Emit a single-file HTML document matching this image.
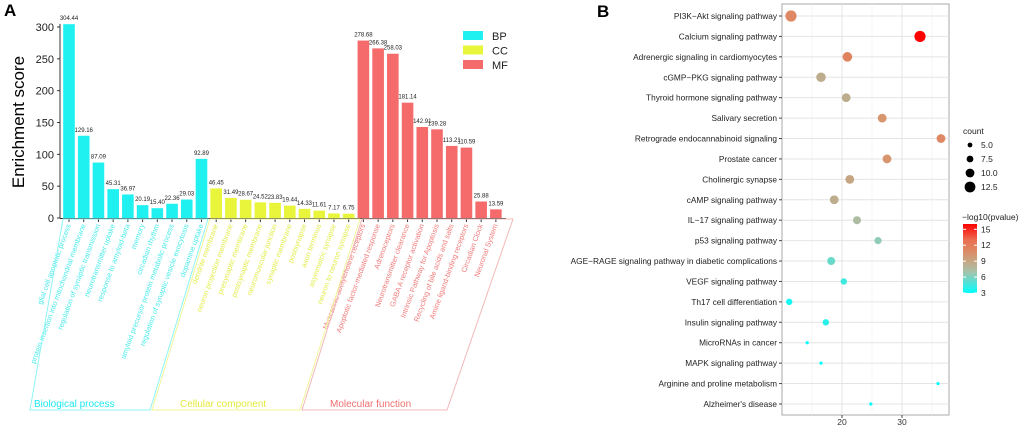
<!DOCTYPE html>
<html><head><meta charset="utf-8"><style>
html,body{margin:0;padding:0;background:#fff;}
svg{display:block;font-family:"Liberation Sans",sans-serif;}
</style></head><body>
<svg id="svg" width="1020" height="430" viewBox="0 0 1020 430"></svg>
<script>
const NS="http://www.w3.org/2000/svg";
const svg=document.getElementById('svg');
function mk(tag,attrs,parent,text){const e=document.createElementNS(NS,tag);for(const k in attrs)e.setAttribute(k,attrs[k]);if(text!==undefined)e.textContent=text;(parent||svg).appendChild(e);return e;}

// ---------- Panel A data ----------
const bpTerms=["glial cell apoptotic process","protein insertion into mitochondrial membrane","regulation of synaptic transmission","neurotransmitter uptake","response to amyloid-beta","memory","circadian rhythm","amyloid precursor protein metabolic process","regulation of synaptic vesicle exocytosis","dopamine uptake"];
const bpValues=[304.44,129.16,87.09,45.31,36.97,20.19,15.40,22.36,29.03,92.89];
const ccTerms=["dendrite membrane","neuron projection membrane","presynaptic membrane","postsynaptic membrane","neuromuscular junction","synaptic membrane","postsynapse","axon terminus","asymmetric synapse","neuron to neuron synapse"];
const ccValues=[46.45,31.49,28.67,24.52,23.83,19.44,14.33,11.61,7.17,6.75];
const mfTerms=["Muscarinic acetylcholine receptors","Apoptotic factor-mediated response","Adrenoceptors","Neurotransmitter clearance","GABA A receptor activation","Intrinsic Pathway for Apoptosis","Recycling of bile acids and salts","Amine ligand-binding receptors","Circadian Clock","Neuronal System"];
const mfValues=[278.68,266.38,258.03,181.14,142.91,139.28,113.21,110.59,25.88,13.59];
const yTicksA=[0,50,100,150,200,250,300];

// ---------- Panel B data ----------
const pathways=["PI3K\u2212Akt signaling pathway","Calcium signaling pathway","Adrenergic signaling in cardiomyocytes","cGMP\u2212PKG signaling pathway","Thyroid hormone signaling pathway","Salivary secretion","Retrograde endocannabinoid signaling","Prostate cancer","Cholinergic synapse","cAMP signaling pathway","IL\u221217 signaling pathway","p53 signaling pathway","AGE\u2212RAGE signaling pathway in diabetic complications","VEGF signaling pathway","Th17 cell differentiation","Insulin signaling pathway","MicroRNAs in cancer","MAPK signaling pathway","Arginine and proline metabolism","Alzheimer's disease"];
const xValuesB=[11.5,33,20.9,16.5,20.7,26.7,36.5,27.5,21.3,18.7,22.5,26,18.2,20.3,11.2,17.3,14.2,16.5,36,24.8];
const countsB=[13,13,11,11,10,10,10,10,10,10,9,8,9,7,7,7,3,3,3,3];
const logpB=[11,16,11.5,8.5,8.5,10,11,10,9,8.5,7.5,6.5,5.5,4.5,3.5,4,3,3,3,3];
const xTicksB=[20,30];
const sizeLegend=[5.0,7.5,10.0,12.5];
const colorTicks=[3,6,9,12,15];

// ---------- Panel A ----------
const yA=v=>218-v*(191/300);
mk('text',{x:4,y:16,'font-size':17,'font-weight':'bold'},svg,'A');
const ttl=mk('text',{x:0,y:0,'font-size':17,'text-anchor':'middle',transform:'translate(24,122) rotate(-90)'},svg,'Enrichment score');

mk('line',{x1:60,y1:yA(0),x2:60,y2:yA(305),stroke:'#333','stroke-width':1});
yTicksA.forEach(t=>{
  mk('line',{x1:57,y1:yA(t),x2:60,y2:yA(t),stroke:'#333'});
  const tx=mk('text',{x:54,y:yA(t)+4,'font-size':11,'text-anchor':'end',fill:'#222'},svg,String(t));
  
});
mk('line',{x1:60,y1:218.5,x2:506,y2:218.5,stroke:'#333'});
const groups=[{terms:bpTerms,vals:bpValues,col:'#1ff0f0',lab:'#4aeaea',name:'bp'},{terms:ccTerms,vals:ccValues,col:'#e8f53a',lab:'#e2ec4a',name:'cc'},{terms:mfTerms,vals:mfValues,col:'#f56b6b',lab:'#ef7a7a',name:'mf'}];
let idx=0;const step=14.72,x0=69;
groups.forEach(g=>{
  g.vals.forEach((v,i)=>{
    const cx=x0+idx*step;
    const r=mk('rect',{x:cx-5.8,y:yA(v),width:11.6,height:yA(0)-yA(v),fill:g.col});
    
    const vl=mk('text',{x:cx,y:yA(v)-4,'font-size':6,'text-anchor':'middle',fill:'#222'},svg,v.toFixed(2));
    
    mk('line',{x1:cx,y1:219,x2:cx,y2:222,stroke:'#333'});
    const tl=mk('text',{x:0,y:0,'font-size':7.3,'text-anchor':'end',fill:g.lab,transform:`translate(${cx+2},225) rotate(-70)`},svg,g.terms[i]);
    
    idx++;
  });
});
const boxes=[[63,208,30,150,'#8ff4f4','#1ee8ee','Biological process',34],[210,360,152,300,'#f0f59a','#e3ea3a','Cellular component',180],[362,513,302,447,'#f3b8b8','#ef6e6e','Molecular function',330]];
boxes.forEach((b,i)=>{
  const p=mk('polygon',{points:`${b[0]},219 ${b[1]},219 ${b[3]},410 ${b[2]},410`,fill:'none',stroke:b[4],'stroke-width':1});
  
  const t=mk('text',{x:b[7],y:407,'font-size':10,fill:b[5]},svg,b[6]);
  
});
[['BP','#1ff0f0'],['CC','#e8f53a'],['MF','#f56b6b']].forEach((l,i)=>{
  const r=mk('rect',{x:463,y:31+i*14.5,width:20,height:9,fill:l[1]});
  
  const t=mk('text',{x:492,y:40+i*14.5,'font-size':11,fill:'#222'},svg,l[0]);
  
});

// ---------- Panel B ----------
const xB=v=>842+(v-20)*6;
const yB=i=>16+i*20.42;
const rB=c=>0.4*c+0.4;
function colB(v){
  const stops=[[3,[0,255,255]],[7,[165,195,170]],[10,[215,150,110]],[13,[235,110,80]],[16,[255,0,0]]];
  for(let i=0;i<stops.length-1;i++){const a=stops[i],b=stops[i+1];if(v<=b[0]){const t=Math.max(0,(v-a[0])/(b[0]-a[0]));return 'rgb('+a[1].map((c,k)=>Math.round(c+(b[1][k]-c)*t)).join(',')+')';}}
  return 'rgb(255,0,0)';
}
mk('text',{x:597,y:17,'font-size':17,'font-weight':'bold'},svg,'B');
const plot=mk('rect',{x:782,y:4,width:167,height:411,fill:'#fff',stroke:'#aaa','stroke-width':1});

[15,25,35].forEach(v=>mk('line',{x1:xB(v),y1:4,x2:xB(v),y2:415,stroke:'#f0f0f0','stroke-width':0.6}));
xTicksB.forEach(v=>{
  mk('line',{x1:xB(v),y1:4,x2:xB(v),y2:415,stroke:'#e4e4e4','stroke-width':1});
  mk('line',{x1:xB(v),y1:415,x2:xB(v),y2:418,stroke:'#444'});
  const t=mk('text',{x:xB(v),y:425,'font-size':8.5,'text-anchor':'middle',fill:'#333'},svg,String(v));
  
});
pathways.forEach((p,i)=>{
  mk('line',{x1:782,y1:yB(i),x2:949,y2:yB(i),stroke:'#e4e4e4','stroke-width':1});
  mk('line',{x1:779,y1:yB(i),x2:782,y2:yB(i),stroke:'#444'});
  const t=mk('text',{x:777,y:yB(i)+3,'font-size':8.3,'text-anchor':'end',fill:'#222'},svg,p);
  
});
pathways.forEach((p,i)=>{
  const c=mk('circle',{cx:xB(xValuesB[i]),cy:yB(i),r:rB(countsB[i]),fill:colB(logpB[i])});
  
});
mk('text',{x:963,y:134,'font-size':8.5,fill:'#222'},svg,'count');
sizeLegend.forEach((s,i)=>{
  const c=mk('circle',{cx:970,cy:145+i*14,r:rB(s),fill:'#000'});
  
  const t=mk('text',{x:981,y:148+i*14,'font-size':8.5,fill:'#222'},svg,s.toFixed(1));
  
});
mk('text',{x:962,y:220,'font-size':8.5,fill:'#222'},svg,'\u2212log10(pvalue)');
const defs=mk('defs',{});
const lg=mk('linearGradient',{id:'cg',x1:0,y1:1,x2:0,y2:0},defs);
[3,5,7,9,11,13,16].forEach(v=>mk('stop',{offset:((v-3)/13),'stop-color':colB(v)},lg));
const cb=mk('rect',{x:963,y:224,width:14,height:69,fill:'url(#cg)'});

const cy=v=>293-(v-3)/13*69;
colorTicks.forEach(v=>{
  mk('line',{x1:963,y1:cy(v),x2:966,y2:cy(v),stroke:'#fff'});
  mk('line',{x1:974,y1:cy(v),x2:977,y2:cy(v),stroke:'#fff'});
  const t=mk('text',{x:981,y:cy(v)+3,'font-size':8.5,fill:'#222'},svg,String(v));
  
});
</script>
</body></html>
